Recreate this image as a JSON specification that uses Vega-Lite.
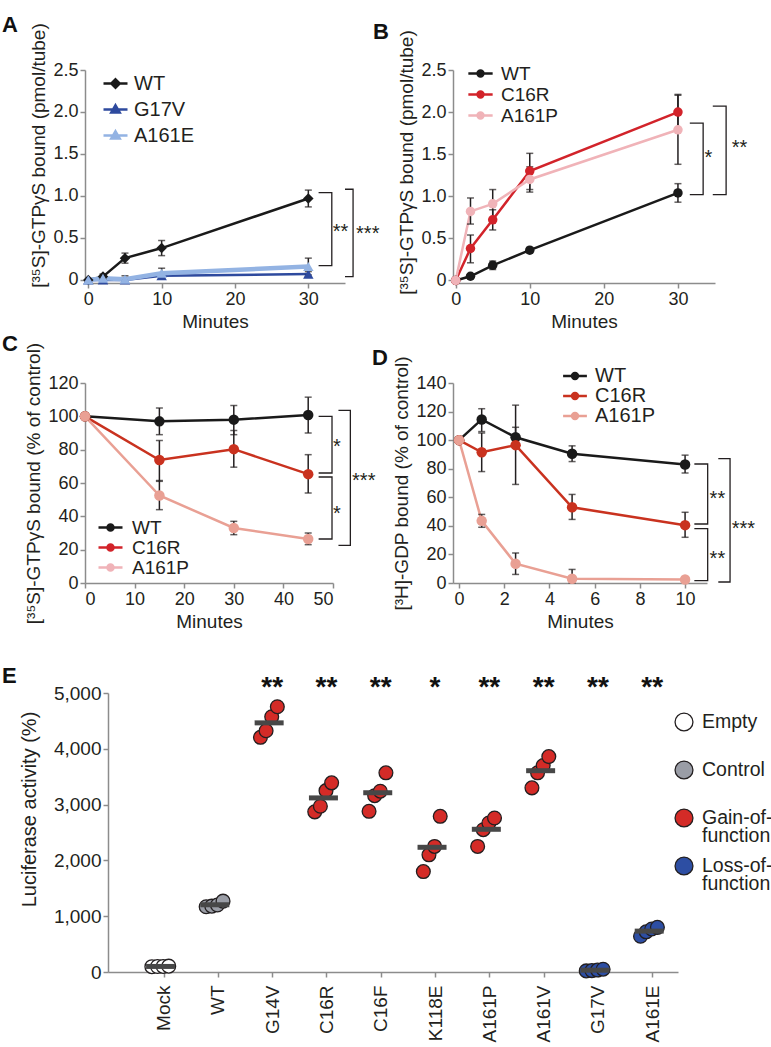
{
  "$schema": "https://vega.github.io/schema/vega-lite/v6.json",
  "background": "white",
  "padding": {"left": 2, "top": 13, "right": 0, "bottom": 0},
  "columns": 2,
  "bounds": "flush",
  "spacing": {"row": 100, "column": 108},
  "resolve": {
    "scale": {"color": "independent", "fill": "independent", "stroke": "independent", "shape": "independent"},
    "legend": {"color": "independent", "fill": "independent", "stroke": "independent", "shape": "independent"}
  },
  "datasets": {
    "A": [
      {"series": "WT", "x": 0, "y": 0},
      {"series": "WT", "x": 2, "y": 0.04, "lo": 0.01, "hi": 0.07},
      {"series": "WT", "x": 5, "y": 0.26, "lo": 0.2, "hi": 0.32},
      {"series": "WT", "x": 10, "y": 0.38, "lo": 0.29, "hi": 0.47},
      {"series": "WT", "x": 30, "y": 0.97, "lo": 0.87, "hi": 1.07},
      {"series": "G17V", "x": 0, "y": 0},
      {"series": "G17V", "x": 2, "y": 0},
      {"series": "G17V", "x": 5, "y": 0},
      {"series": "G17V", "x": 10, "y": 0.05},
      {"series": "G17V", "x": 30, "y": 0.07, "lo": 0.04, "hi": 0.1},
      {"series": "A161E", "x": 0, "y": 0},
      {"series": "A161E", "x": 2, "y": 0.02},
      {"series": "A161E", "x": 5, "y": 0.01, "lo": -0.02, "hi": 0.05},
      {"series": "A161E", "x": 10, "y": 0.08, "lo": 0.02, "hi": 0.14},
      {"series": "A161E", "x": 30, "y": 0.16, "lo": 0.06, "hi": 0.26}
    ],
    "Abr": [
      {"b": 1, "o": 1, "x": 31.4, "y": 1.04}, {"b": 1, "o": 2, "x": 33.2, "y": 1.04}, {"b": 1, "o": 3, "x": 33.2, "y": 0.17}, {"b": 1, "o": 4, "x": 31.4, "y": 0.17},
      {"b": 2, "o": 1, "x": 35.0, "y": 1.08}, {"b": 2, "o": 2, "x": 36.1, "y": 1.08}, {"b": 2, "o": 3, "x": 36.1, "y": 0.04}, {"b": 2, "o": 4, "x": 35.0, "y": 0.04}
    ],
    "Ast": [{"x": 34.4, "y": 0.62, "s": "**"}, {"x": 38.1, "y": 0.6, "s": "***"}],
    "B": [
      {"series": "WT", "x": 0, "y": 0},
      {"series": "WT", "x": 2, "y": 0.05, "lo": 0.03, "hi": 0.07},
      {"series": "WT", "x": 5, "y": 0.18, "lo": 0.13, "hi": 0.23},
      {"series": "WT", "x": 10, "y": 0.36, "lo": 0.33, "hi": 0.39},
      {"series": "WT", "x": 30, "y": 1.04, "lo": 0.93, "hi": 1.15},
      {"series": "C16R", "x": 0, "y": 0},
      {"series": "C16R", "x": 2, "y": 0.38, "lo": 0.21, "hi": 0.54},
      {"series": "C16R", "x": 5, "y": 0.72, "lo": 0.6, "hi": 0.84},
      {"series": "C16R", "x": 10, "y": 1.3, "lo": 1.08, "hi": 1.51},
      {"series": "C16R", "x": 30, "y": 2.0, "lo": 1.79, "hi": 2.21},
      {"series": "A161P", "x": 0, "y": 0},
      {"series": "A161P", "x": 2, "y": 0.82, "lo": 0.67, "hi": 0.98},
      {"series": "A161P", "x": 5, "y": 0.91, "lo": 0.74, "hi": 1.08},
      {"series": "A161P", "x": 10, "y": 1.2, "lo": 1.05, "hi": 1.35},
      {"series": "A161P", "x": 30, "y": 1.79, "lo": 1.38, "hi": 2.2}
    ],
    "Bbr": [
      {"b": 1, "o": 1, "x": 31.6, "y": 1.87}, {"b": 1, "o": 2, "x": 33.4, "y": 1.87}, {"b": 1, "o": 3, "x": 33.4, "y": 1.02}, {"b": 1, "o": 4, "x": 31.6, "y": 1.02},
      {"b": 2, "o": 1, "x": 34.7, "y": 2.07}, {"b": 2, "o": 2, "x": 36.5, "y": 2.07}, {"b": 2, "o": 3, "x": 36.5, "y": 1.02}, {"b": 2, "o": 4, "x": 34.7, "y": 1.02}
    ],
    "Bst": [{"x": 34.1, "y": 1.5, "s": "*"}, {"x": 38.3, "y": 1.62, "s": "**"}],
    "C": [
      {"series": "WT", "x": 0, "y": 100},
      {"series": "WT", "x": 15, "y": 97, "lo": 89, "hi": 105},
      {"series": "WT", "x": 30, "y": 98, "lo": 89, "hi": 106.5},
      {"series": "WT", "x": 45, "y": 100.8, "lo": 90, "hi": 111.5},
      {"series": "C16R", "x": 0, "y": 100},
      {"series": "C16R", "x": 15, "y": 73.8, "lo": 61, "hi": 85.5},
      {"series": "C16R", "x": 30, "y": 80.3, "lo": 69.5, "hi": 91.5},
      {"series": "C16R", "x": 45, "y": 65.3, "lo": 54, "hi": 77},
      {"series": "A161P", "x": 0, "y": 100},
      {"series": "A161P", "x": 15, "y": 52.5, "lo": 44, "hi": 61.5},
      {"series": "A161P", "x": 30, "y": 33, "lo": 29, "hi": 37},
      {"series": "A161P", "x": 45, "y": 26.4, "lo": 23, "hi": 30}
    ],
    "Cbr": [
      {"b": 1, "o": 1, "x": 47.1, "y": 100}, {"b": 1, "o": 2, "x": 49.8, "y": 100}, {"b": 1, "o": 3, "x": 49.8, "y": 66}, {"b": 1, "o": 4, "x": 47.1, "y": 66},
      {"b": 2, "o": 1, "x": 47.1, "y": 63.6}, {"b": 2, "o": 2, "x": 49.8, "y": 63.6}, {"b": 2, "o": 3, "x": 49.8, "y": 26.4}, {"b": 2, "o": 4, "x": 47.1, "y": 26.4},
      {"b": 3, "o": 1, "x": 51.1, "y": 103.6}, {"b": 3, "o": 2, "x": 53.5, "y": 103.6}, {"b": 3, "o": 3, "x": 53.5, "y": 22.6}, {"b": 3, "o": 4, "x": 51.1, "y": 22.6}
    ],
    "Cst": [{"x": 50.8, "y": 84, "s": "*"}, {"x": 50.8, "y": 43.6, "s": "*"}, {"x": 56.2, "y": 63.6, "s": "***"}],
    "D": [
      {"series": "WT", "x": 0, "y": 100},
      {"series": "WT", "x": 1, "y": 114.5, "lo": 106, "hi": 122},
      {"series": "WT", "x": 2.5, "y": 102, "lo": 95, "hi": 109},
      {"series": "WT", "x": 5, "y": 90.5, "lo": 85, "hi": 96},
      {"series": "WT", "x": 10, "y": 83, "lo": 77, "hi": 89.5},
      {"series": "C16R", "x": 0, "y": 100},
      {"series": "C16R", "x": 1, "y": 91.5, "lo": 78, "hi": 105},
      {"series": "C16R", "x": 2.5, "y": 96.5, "lo": 69, "hi": 124.5},
      {"series": "C16R", "x": 5, "y": 53, "lo": 44.5, "hi": 62},
      {"series": "C16R", "x": 10, "y": 40.5, "lo": 32, "hi": 49.5},
      {"series": "A161P", "x": 0, "y": 100},
      {"series": "A161P", "x": 1, "y": 43.5, "lo": 39, "hi": 48},
      {"series": "A161P", "x": 2.5, "y": 13.5, "lo": 6, "hi": 21},
      {"series": "A161P", "x": 5, "y": 3, "lo": 0, "hi": 9.5},
      {"series": "A161P", "x": 10, "y": 2.5}
    ],
    "Dbr": [
      {"b": 1, "o": 1, "x": 10.41, "y": 83.3}, {"b": 1, "o": 2, "x": 11.0, "y": 83.3}, {"b": 1, "o": 3, "x": 11.0, "y": 41.3}, {"b": 1, "o": 4, "x": 10.41, "y": 41.3},
      {"b": 2, "o": 1, "x": 10.41, "y": 38.0}, {"b": 2, "o": 2, "x": 11.0, "y": 38.0}, {"b": 2, "o": 3, "x": 11.0, "y": 1.6}, {"b": 2, "o": 4, "x": 10.41, "y": 1.6},
      {"b": 3, "o": 1, "x": 11.47, "y": 87.0}, {"b": 3, "o": 2, "x": 11.99, "y": 87.0}, {"b": 3, "o": 3, "x": 11.99, "y": 0.7}, {"b": 3, "o": 4, "x": 11.47, "y": 0.7}
    ],
    "Dst": [{"x": 11.43, "y": 61.8, "s": "**"}, {"x": 11.43, "y": 19.8, "s": "**"}, {"x": 12.58, "y": 40.8, "s": "***"}],
    "E": [
      {"mut": "Mock", "rep": 1, "value": 95, "group": "Empty"},
      {"mut": "Mock", "rep": 2, "value": 98, "group": "Empty"},
      {"mut": "Mock", "rep": 3, "value": 100, "group": "Empty"},
      {"mut": "Mock", "rep": 4, "value": 105, "group": "Empty"},
      {"mut": "WT", "rep": 1, "value": 1170, "group": "Control"},
      {"mut": "WT", "rep": 2, "value": 1180, "group": "Control"},
      {"mut": "WT", "rep": 3, "value": 1200, "group": "Control"},
      {"mut": "WT", "rep": 4, "value": 1270, "group": "Control"},
      {"mut": "G14V", "rep": 1, "value": 4206, "group": "Gain-of-function"},
      {"mut": "G14V", "rep": 2, "value": 4324, "group": "Gain-of-function"},
      {"mut": "G14V", "rep": 3, "value": 4575, "group": "Gain-of-function"},
      {"mut": "G14V", "rep": 4, "value": 4754, "group": "Gain-of-function"},
      {"mut": "C16R", "rep": 1, "value": 2870, "group": "Gain-of-function"},
      {"mut": "C16R", "rep": 2, "value": 2970, "group": "Gain-of-function"},
      {"mut": "C16R", "rep": 3, "value": 3250, "group": "Gain-of-function"},
      {"mut": "C16R", "rep": 4, "value": 3390, "group": "Gain-of-function"},
      {"mut": "C16F", "rep": 1, "value": 2880, "group": "Gain-of-function"},
      {"mut": "C16F", "rep": 2, "value": 3160, "group": "Gain-of-function"},
      {"mut": "C16F", "rep": 3, "value": 3240, "group": "Gain-of-function"},
      {"mut": "C16F", "rep": 4, "value": 3570, "group": "Gain-of-function"},
      {"mut": "K118E", "rep": 1, "value": 1800, "group": "Gain-of-function"},
      {"mut": "K118E", "rep": 2, "value": 2100, "group": "Gain-of-function"},
      {"mut": "K118E", "rep": 3, "value": 2250, "group": "Gain-of-function"},
      {"mut": "K118E", "rep": 4, "value": 2790, "group": "Gain-of-function"},
      {"mut": "A161P", "rep": 1, "value": 2250, "group": "Gain-of-function"},
      {"mut": "A161P", "rep": 2, "value": 2550, "group": "Gain-of-function"},
      {"mut": "A161P", "rep": 3, "value": 2670, "group": "Gain-of-function"},
      {"mut": "A161P", "rep": 4, "value": 2760, "group": "Gain-of-function"},
      {"mut": "A161V", "rep": 1, "value": 3300, "group": "Gain-of-function"},
      {"mut": "A161V", "rep": 2, "value": 3570, "group": "Gain-of-function"},
      {"mut": "A161V", "rep": 3, "value": 3700, "group": "Gain-of-function"},
      {"mut": "A161V", "rep": 4, "value": 3860, "group": "Gain-of-function"},
      {"mut": "G17V", "rep": 1, "value": 20, "group": "Loss-of-function"},
      {"mut": "G17V", "rep": 2, "value": 25, "group": "Loss-of-function"},
      {"mut": "G17V", "rep": 3, "value": 35, "group": "Loss-of-function"},
      {"mut": "G17V", "rep": 4, "value": 50, "group": "Loss-of-function"},
      {"mut": "A161E", "rep": 1, "value": 640, "group": "Loss-of-function"},
      {"mut": "A161E", "rep": 2, "value": 720, "group": "Loss-of-function"},
      {"mut": "A161E", "rep": 3, "value": 770, "group": "Loss-of-function"},
      {"mut": "A161E", "rep": 4, "value": 800, "group": "Loss-of-function"}
    ],
    "Esig": [
      {"mut": "G14V", "sig": "**"}, {"mut": "C16R", "sig": "**"}, {"mut": "C16F", "sig": "**"}, {"mut": "K118E", "sig": "*"},
      {"mut": "A161P", "sig": "**"}, {"mut": "A161V", "sig": "**"}, {"mut": "G17V", "sig": "**"}, {"mut": "A161E", "sig": "**"}
    ]
  },
  "concat": [
    {
      "width": 260, "height": 213,
      "title": {"text": "A", "dx": -83},
      "encoding": {
        "x": {"field": "x", "type": "quantitative", "scale": {"domain": [-0.45, 35]}, "axis": {"values": [0, 10, 20, 30], "title": "Minutes"}},
        "y": {"field": "y", "type": "quantitative", "scale": {"domain": [-0.036, 2.5]}, "axis": {"values": [0, 0.5, 1, 1.5, 2, 2.5], "labelExpr": "datum.value == 0 ? '0' : format(datum.value, '.1f')", "title": "[³⁵S]-GTPγS bound (pmol/tube)", "titleY": 85}}
      },
      "layer": [
        {"data": {"name": "Abr"}, "mark": {"type": "line", "color": "#231f20", "strokeWidth": 1.3}, "encoding": {"detail": {"field": "b", "type": "nominal"}, "order": {"field": "o", "type": "quantitative"}}},
        {"data": {"name": "A"}, "transform": [{"filter": "datum.series != 'A161E'"}], "mark": {"type": "line", "strokeWidth": 2.5}, "encoding": {"color": {"field": "series", "type": "nominal", "scale": {"domain": ["A161E", "G17V", "WT"], "range": ["#93b3e3", "#2e4a9e", "#1a1a1a"]}, "legend": null}}},
        {"data": {"name": "A"}, "transform": [{"filter": "datum.series == 'A161E'"}], "mark": {"type": "line", "strokeWidth": 4.5}, "encoding": {"color": {"field": "series", "type": "nominal", "legend": null}}},
        {"data": {"name": "A"}, "transform": [{"filter": "isValid(datum.lo)"}], "mark": {"type": "errorbar", "ticks": true, "color": "#231f20", "thickness": 1.5, "size": 7}, "encoding": {"y": {"field": "lo", "type": "quantitative", "title": "[³⁵S]-GTPγS bound (pmol/tube)"}, "y2": {"field": "hi"}}},
        {"data": {"name": "A"}, "transform": [{"filter": "datum.series == 'WT'"}], "mark": {"type": "point", "shape": "diamond", "filled": true, "size": 110, "opacity": 1}, "encoding": {"color": {"field": "series", "type": "nominal", "legend": null}}},
        {"data": {"name": "A"}, "transform": [{"filter": "datum.series != 'WT'"}], "mark": {"type": "point", "shape": "triangle-up", "filled": true, "size": 110, "opacity": 1}, "encoding": {"color": {"field": "series", "type": "nominal", "legend": null}}},
        {"data": {"name": "Ast"}, "mark": {"type": "text", "fontSize": 20, "color": "#231f20", "baseline": "middle", "dy": 4}, "encoding": {"text": {"field": "s", "type": "nominal"}}},
        {"data": {"name": "A"}, "transform": [{"filter": "false"}], "mark": {"type": "point", "filled": true, "opacity": 1},
          "encoding": {
            "shape": {"field": "series", "type": "nominal", "scale": {"domain": ["WT", "G17V", "A161E"], "range": ["M-1.2,0H1.2M0,-0.42L0.42,0L0,0.42L-0.42,0Z", "M-1.2,0H1.2M0,-0.42L0.42,0.3L-0.42,0.3Z", "M-1.2,0H1.2M0,-0.42L0.42,0.3L-0.42,0.3Z"]}, "legend": {"orient": "none", "legendX": 19, "legendY": 2, "title": null, "symbolSize": 400, "symbolStrokeWidth": 2.5, "labelFontSize": 20, "labelOffset": 7, "rowPadding": 4, "padding": 0}},
            "fill": {"field": "series", "type": "nominal", "scale": {"domain": ["WT", "G17V", "A161E"], "range": ["#1a1a1a", "#2e4a9e", "#93b3e3"]}, "legend": {"orient": "none", "legendX": 19, "legendY": 2, "title": null, "symbolSize": 400, "symbolStrokeWidth": 2.5, "labelFontSize": 20, "labelOffset": 7, "rowPadding": 4, "padding": 0}},
            "stroke": {"field": "series", "type": "nominal", "scale": {"domain": ["WT", "G17V", "A161E"], "range": ["#1a1a1a", "#2e4a9e", "#93b3e3"]}, "legend": {"orient": "none", "legendX": 19, "legendY": 2, "title": null, "symbolSize": 400, "symbolStrokeWidth": 2.5, "labelFontSize": 20, "labelOffset": 7, "rowPadding": 4, "padding": 0}}
          }}
      ]
    },
    {
      "width": 262, "height": 213,
      "title": {"text": "B", "dx": -80},
      "encoding": {
        "x": {"field": "x", "type": "quantitative", "scale": {"domain": [-0.36, 35]}, "axis": {"values": [0, 10, 20, 30], "title": "Minutes"}},
        "y": {"field": "y", "type": "quantitative", "scale": {"domain": [-0.03, 2.5]}, "axis": {"values": [0, 0.5, 1, 1.5, 2, 2.5], "labelExpr": "datum.value == 0 ? '0' : format(datum.value, '.1f')", "title": "[³⁵S]-GTPγS bound (pmol/tube)", "titleY": 92}}
      },
      "layer": [
        {"data": {"name": "Bbr"}, "mark": {"type": "line", "color": "#231f20", "strokeWidth": 1.3}, "encoding": {"detail": {"field": "b", "type": "nominal"}, "order": {"field": "o", "type": "quantitative"}}},
        {"data": {"name": "B"}, "mark": {"type": "line", "strokeWidth": 2.5}, "encoding": {"color": {"field": "series", "type": "nominal", "scale": {"domain": ["A161P", "C16R", "WT"], "range": ["#f0b3b8", "#d2232a", "#1a1a1a"]}, "legend": null}}},
        {"data": {"name": "B"}, "transform": [{"filter": "isValid(datum.lo)"}], "mark": {"type": "errorbar", "ticks": true, "color": "#231f20", "thickness": 1.5, "size": 7}, "encoding": {"y": {"field": "lo", "type": "quantitative", "title": "[³⁵S]-GTPγS bound (pmol/tube)"}, "y2": {"field": "hi"}}},
        {"data": {"name": "B"}, "mark": {"type": "point", "shape": "circle", "filled": true, "size": 90, "opacity": 1}, "encoding": {"color": {"field": "series", "type": "nominal", "legend": null}}},
        {"data": {"name": "Bst"}, "mark": {"type": "text", "fontSize": 20, "color": "#231f20", "baseline": "middle", "dy": 4}, "encoding": {"text": {"field": "s", "type": "nominal"}}},
        {"data": {"name": "B"}, "transform": [{"filter": "false"}], "mark": {"type": "point", "filled": true, "opacity": 1},
          "encoding": {
            "shape": {"field": "series", "type": "nominal", "scale": {"domain": ["WT", "C16R", "A161P"], "range": ["M-1.35,0H1.35M-0.33,0A0.33,0.33 0 1,0 0.33,0A0.33,0.33 0 1,0 -0.33,0Z", "M-1.35,0H1.35M-0.33,0A0.33,0.33 0 1,0 0.33,0A0.33,0.33 0 1,0 -0.33,0Z", "M-1.35,0H1.35M-0.33,0A0.33,0.33 0 1,0 0.33,0A0.33,0.33 0 1,0 -0.33,0Z"]}, "legend": {"orient": "none", "legendX": 17, "legendY": -7, "title": null, "symbolSize": 324, "symbolStrokeWidth": 2.5, "labelFontSize": 19, "labelOffset": 10, "rowPadding": 0, "padding": 0}},
            "fill": {"field": "series", "type": "nominal", "scale": {"domain": ["WT", "C16R", "A161P"], "range": ["#1a1a1a", "#d2232a", "#f0b3b8"]}, "legend": {"orient": "none", "legendX": 17, "legendY": -7, "title": null, "symbolSize": 324, "symbolStrokeWidth": 2.5, "labelFontSize": 19, "labelOffset": 10, "rowPadding": 0, "padding": 0}},
            "stroke": {"field": "series", "type": "nominal", "scale": {"domain": ["WT", "C16R", "A161P"], "range": ["#1a1a1a", "#d2232a", "#f0b3b8"]}, "legend": {"orient": "none", "legendX": 17, "legendY": -7, "title": null, "symbolSize": 324, "symbolStrokeWidth": 2.5, "labelFontSize": 19, "labelOffset": 10, "rowPadding": 0, "padding": 0}}
          }}
      ]
    },
    {
      "width": 260, "height": 200,
      "title": {"text": "C", "dx": -83},
      "encoding": {
        "x": {"field": "x", "type": "quantitative", "scale": {"domain": [0, 50], "range": [0, 248]}, "axis": {"values": [0, 10, 20, 30, 40, 50], "title": "Minutes"}},
        "y": {"field": "y", "type": "quantitative", "scale": {"domain": [0, 120]}, "axis": {"values": [0, 20, 40, 60, 80, 100, 120], "title": "[³⁵S]-GTPγS bound (% of control)"}}
      },
      "layer": [
        {"data": {"name": "Cbr"}, "mark": {"type": "line", "color": "#231f20", "strokeWidth": 1.3}, "encoding": {"detail": {"field": "b", "type": "nominal"}, "order": {"field": "o", "type": "quantitative"}}},
        {"data": {"name": "C"}, "mark": {"type": "line", "strokeWidth": 2.5}, "encoding": {"color": {"field": "series", "type": "nominal", "scale": {"domain": ["A161P", "C16R", "WT"], "range": ["#e9a094", "#c9321f", "#1a1a1a"]}, "legend": null}}},
        {"data": {"name": "C"}, "transform": [{"filter": "isValid(datum.lo)"}], "mark": {"type": "errorbar", "ticks": true, "color": "#231f20", "thickness": 1.5, "size": 7}, "encoding": {"y": {"field": "lo", "type": "quantitative", "title": "[³⁵S]-GTPγS bound (% of control)"}, "y2": {"field": "hi"}}},
        {"data": {"name": "C"}, "mark": {"type": "point", "shape": "circle", "filled": true, "size": 110, "opacity": 1}, "encoding": {"color": {"field": "series", "type": "nominal", "legend": null}}},
        {"data": {"name": "Cst"}, "mark": {"type": "text", "fontSize": 20, "color": "#231f20", "baseline": "middle", "dy": 4}, "encoding": {"text": {"field": "s", "type": "nominal"}}},
        {"data": {"name": "C"}, "transform": [{"filter": "false"}], "mark": {"type": "point", "filled": true, "opacity": 1},
          "encoding": {
            "shape": {"field": "series", "type": "nominal", "scale": {"domain": ["WT", "C16R", "A161P"], "range": ["M-1.5,0H1.5M-0.38,0A0.38,0.38 0 1,0 0.38,0A0.38,0.38 0 1,0 -0.38,0Z", "M-1.5,0H1.5M-0.38,0A0.38,0.38 0 1,0 0.38,0A0.38,0.38 0 1,0 -0.38,0Z", "M-1.5,0H1.5M-0.38,0A0.38,0.38 0 1,0 0.38,0A0.38,0.38 0 1,0 -0.38,0Z"]}, "legend": {"orient": "none", "legendX": 16, "legendY": 135, "title": null, "symbolSize": 256, "symbolStrokeWidth": 2.5, "labelFontSize": 19, "labelOffset": 12, "rowPadding": 0, "padding": 0}},
            "fill": {"field": "series", "type": "nominal", "scale": {"domain": ["WT", "C16R", "A161P"], "range": ["#1a1a1a", "#d2232a", "#f0b3b8"]}, "legend": {"orient": "none", "legendX": 16, "legendY": 135, "title": null, "symbolSize": 256, "symbolStrokeWidth": 2.5, "labelFontSize": 19, "labelOffset": 12, "rowPadding": 0, "padding": 0}},
            "stroke": {"field": "series", "type": "nominal", "scale": {"domain": ["WT", "C16R", "A161P"], "range": ["#1a1a1a", "#d2232a", "#f0b3b8"]}, "legend": {"orient": "none", "legendX": 16, "legendY": 135, "title": null, "symbolSize": 256, "symbolStrokeWidth": 2.5, "labelFontSize": 19, "labelOffset": 12, "rowPadding": 0, "padding": 0}}
          }}
      ]
    },
    {
      "width": 254, "height": 200,
      "title": {"text": "D", "dx": -81},
      "encoding": {
        "x": {"field": "x", "type": "quantitative", "scale": {"domain": [-0.27, 10.97]}, "axis": {"values": [0, 2, 4, 6, 8, 10], "title": "Minutes"}},
        "y": {"field": "y", "type": "quantitative", "scale": {"domain": [0, 140]}, "axis": {"values": [0, 20, 40, 60, 80, 100, 120, 140], "title": "[³H]-GDP bound (% of control)"}}
      },
      "layer": [
        {"data": {"name": "Dbr"}, "mark": {"type": "line", "color": "#231f20", "strokeWidth": 1.3}, "encoding": {"detail": {"field": "b", "type": "nominal"}, "order": {"field": "o", "type": "quantitative"}}},
        {"data": {"name": "D"}, "mark": {"type": "line", "strokeWidth": 2.5}, "encoding": {"color": {"field": "series", "type": "nominal", "scale": {"domain": ["A161P", "C16R", "WT"], "range": ["#e9a094", "#c9321f", "#1a1a1a"]}, "legend": null}}},
        {"data": {"name": "D"}, "transform": [{"filter": "isValid(datum.lo)"}], "mark": {"type": "errorbar", "ticks": true, "color": "#231f20", "thickness": 1.5, "size": 7}, "encoding": {"y": {"field": "lo", "type": "quantitative", "title": "[³H]-GDP bound (% of control)"}, "y2": {"field": "hi"}}},
        {"data": {"name": "D"}, "mark": {"type": "point", "shape": "circle", "filled": true, "size": 110, "opacity": 1}, "encoding": {"color": {"field": "series", "type": "nominal", "legend": null}}},
        {"data": {"name": "Dst"}, "mark": {"type": "text", "fontSize": 20, "color": "#231f20", "baseline": "middle", "dy": 4}, "encoding": {"text": {"field": "s", "type": "nominal"}}},
        {"data": {"name": "D"}, "transform": [{"filter": "false"}], "mark": {"type": "point", "filled": true, "opacity": 1},
          "encoding": {
            "shape": {"field": "series", "type": "nominal", "scale": {"domain": ["WT", "C16R", "A161P"], "range": ["M-1.4,0H1.4M-0.35,0A0.35,0.35 0 1,0 0.35,0A0.35,0.35 0 1,0 -0.35,0Z", "M-1.4,0H1.4M-0.35,0A0.35,0.35 0 1,0 0.35,0A0.35,0.35 0 1,0 -0.35,0Z", "M-1.4,0H1.4M-0.35,0A0.35,0.35 0 1,0 0.35,0A0.35,0.35 0 1,0 -0.35,0Z"]}, "legend": {"orient": "none", "legendX": 112, "legendY": -17, "title": null, "symbolSize": 289, "symbolStrokeWidth": 2.5, "labelFontSize": 20, "labelOffset": 10, "rowPadding": 0, "padding": 0}},
            "fill": {"field": "series", "type": "nominal", "scale": {"domain": ["WT", "C16R", "A161P"], "range": ["#1a1a1a", "#c9321f", "#e9a094"]}, "legend": {"orient": "none", "legendX": 112, "legendY": -17, "title": null, "symbolSize": 289, "symbolStrokeWidth": 2.5, "labelFontSize": 20, "labelOffset": 10, "rowPadding": 0, "padding": 0}},
            "stroke": {"field": "series", "type": "nominal", "scale": {"domain": ["WT", "C16R", "A161P"], "range": ["#1a1a1a", "#c9321f", "#e9a094"]}, "legend": {"orient": "none", "legendX": 112, "legendY": -17, "title": null, "symbolSize": 289, "symbolStrokeWidth": 2.5, "labelFontSize": 20, "labelOffset": 10, "rowPadding": 0, "padding": 0}}
          }}
      ]
    },
    {
      "width": 260, "height": 289,
      "title": {"text": "E", "dx": -83},
      "encoding": {
        "x": {"field": "mut", "type": "nominal", "scale": {"type": "point", "domain": ["Mock", "WT", "G14V", "C16R", "C16F", "K118E", "A161P", "A161V", "G17V", "A161E"], "range": [23, 593], "padding": 0.749, "align": 0.683}, "axis": {"title": null, "labelAngle": -90, "labelFontSize": 19, "labelPadding": 8}}
      },
      "layer": [
        {"data": {"name": "E"}, "mark": {"type": "point", "shape": "circle", "filled": true, "size": 190, "stroke": "#231f20", "strokeWidth": 1.3, "opacity": 1},
          "encoding": {
            "y": {"field": "value", "type": "quantitative", "scale": {"domain": [0, 5000], "range": [289, 10]}, "axis": {"values": [0, 1000, 2000, 3000, 4000, 5000], "format": ",d", "labelFontSize": 19, "title": "Luciferase activity (%)", "titleFontSize": 20, "titleY": 126, "titlePadding": 14, "offset": -23}},
            "xOffset": {"field": "rep", "type": "nominal", "scale": {"range": [-14.5, 8]}},
            "fill": {"field": "group", "type": "nominal", "scale": {"domain": ["Empty", "Control", "Gain-of-function", "Loss-of-function"], "range": ["#ffffff", "#9a9da6", "#d42b27", "#2d4ea3"]},
              "legend": {"orient": "none", "legendX": 589, "legendY": 29, "title": null, "symbolSize": 320, "symbolStrokeColor": "#231f20", "symbolStrokeWidth": 1.3, "labelFontSize": 19.5, "labelOffset": 8, "rowPadding": 8, "gridAlign": "all", "padding": 0,
                "labelExpr": "datum.label == 'Gain-of-function' ? ['Gain-of-', 'function'] : datum.label == 'Loss-of-function' ? ['Loss-of-', 'function'] : datum.label"}}
          }},
        {"data": {"name": "E"}, "mark": {"type": "tick", "color": "#474747", "thickness": 5, "size": 29, "xOffset": -3, "opacity": 1},
          "encoding": {"y": {"aggregate": "mean", "field": "value", "type": "quantitative", "scale": {"domain": [0, 5000], "range": [289, 10]}, "title": "Luciferase activity (%)"}}},
        {"data": {"name": "Esig"}, "mark": {"type": "text", "fontWeight": "bold", "fontSize": 28, "color": "#111111", "baseline": "middle", "dy": 6, "clip": false},
          "encoding": {"y": {"datum": 5200, "type": "quantitative", "scale": {"domain": [0, 5000], "range": [289, 10]}, "title": "Luciferase activity (%)"}, "text": {"field": "sig", "type": "nominal"}}}
      ]
    }
  ],
  "config": {
    "font": "Liberation Sans",
    "view": {"stroke": null},
    "axis": {"grid": false, "domainColor": "#8c8c8c", "domainWidth": 1.5, "tickColor": "#8c8c8c", "tickWidth": 1.5, "tickSize": 5, "labelColor": "#231f20", "titleColor": "#231f20", "labelFont": "Liberation Sans", "titleFont": "Liberation Sans", "labelFontSize": 18, "titleFontSize": 19, "titleFontWeight": "normal", "labelPadding": 2, "titlePadding": 4},
    "legend": {"labelFont": "Liberation Sans", "labelColor": "#231f20"},
    "text": {"font": "Liberation Sans"},
    "title": {"font": "Liberation Sans", "fontSize": 22, "fontWeight": "bold", "color": "#111111", "anchor": "start", "frame": "group", "offset": 0, "dy": 18},
    "style": {"guide-label": {"lineHeight": 18}}
  }
}
